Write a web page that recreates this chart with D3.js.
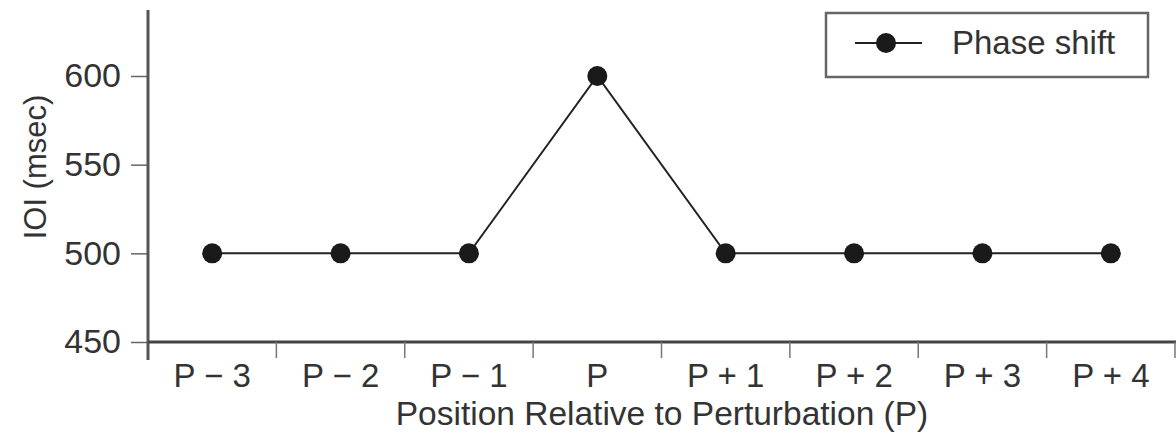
<!DOCTYPE html>
<html>
<head>
<meta charset="utf-8">
<script src="https://cdn.jsdelivr.net/npm/d3@7.9.0/dist/d3.min.js"></script>
<style>
  body { margin: 0; background: #fff; }
  text { font-family: "Liberation Sans", Arial, sans-serif; fill: #333; }
</style>
</head>
<body>
<svg id="chart"></svg>
<script>
const positions = ["P \u2212 3", "P \u2212 2", "P \u2212 1", "P", "P + 1", "P + 2", "P + 3", "P + 4"];
const ioi = [500, 500, 500, 600, 500, 500, 500, 500];
const yTicks = [450, 500, 550, 600];

const width = 1176, height = 439;
const svg = d3.select("#chart").attr("width", width).attr("height", height);

// scales
const x = d3.scaleBand().domain(positions).range([148, 1175]);
const y = d3.scaleLinear().domain([450, 600]).range([342, 76]);

const data = positions.map((p, i) => ({ p, v: ioi[i] }));

// y axis
const yAxis = svg.append("g").attr("transform", "translate(148,0)")
  .call(d3.axisLeft(y).tickValues(yTicks).tickSize(17).tickPadding(10));
yAxis.select(".domain").remove();
yAxis.selectAll(".tick line").attr("stroke", "#666").attr("stroke-width", 1.5);
yAxis.selectAll(".tick text").style("font-size", "34px").attr("fill", "#333");
svg.append("line").attr("x1", 148).attr("x2", 148).attr("y1", 10).attr("y2", 360)
  .attr("stroke", "#555").attr("stroke-width", 3);

// x axis
const xAxis = svg.append("g").attr("transform", "translate(0,342)")
  .call(d3.axisBottom(x).tickSize(0).tickPadding(22));
xAxis.select(".domain").remove();
xAxis.selectAll(".tick text").style("font-size", "33px").attr("fill", "#333");
svg.append("line").attr("x1", 148).attr("x2", 1176).attr("y1", 342).attr("y2", 342)
  .attr("stroke", "#444").attr("stroke-width", 3);
// separators between categories
const bounds = positions.map(p => x(p)).concat([x.range()[1]]).slice(1);
svg.selectAll(".sep").data(bounds).enter().append("line")
  .attr("x1", d => d).attr("x2", d => d).attr("y1", 342).attr("y2", 358)
  .attr("stroke", "#777").attr("stroke-width", 1.5);

// labels
svg.append("text").attr("x", 662).attr("y", 425).attr("text-anchor", "middle")
  .style("font-size", "33.5px").text("Position Relative to Perturbation (P)");
svg.append("text").attr("transform", "translate(46,167) rotate(-90)")
  .attr("text-anchor", "middle").style("font-size", "31px").text("IOI (msec)");

// line + markers
const cx = d => x(d.p) + x.bandwidth() / 2;
svg.append("path").datum(data)
  .attr("fill", "none").attr("stroke", "#222").attr("stroke-width", 2)
  .attr("d", d3.line().x(cx).y(d => y(d.v)));
svg.selectAll(".pt").data(data).enter().append("circle")
  .attr("cx", cx).attr("cy", d => y(d.v)).attr("r", 10).attr("fill", "#1a1a1a");

// legend
const lg = svg.append("g");
lg.append("rect").attr("x", 826).attr("y", 13).attr("width", 322).attr("height", 64)
  .attr("fill", "#fff").attr("stroke", "#666").attr("stroke-width", 2.5);
lg.append("line").attr("x1", 855).attr("x2", 922).attr("y1", 43).attr("y2", 43)
  .attr("stroke", "#222").attr("stroke-width", 2);
lg.append("circle").attr("cx", 886).attr("cy", 43).attr("r", 10).attr("fill", "#1a1a1a");
lg.append("text").attr("x", 952).attr("y", 54).style("font-size", "33px").text("Phase shift");
</script>
</body>
</html>
